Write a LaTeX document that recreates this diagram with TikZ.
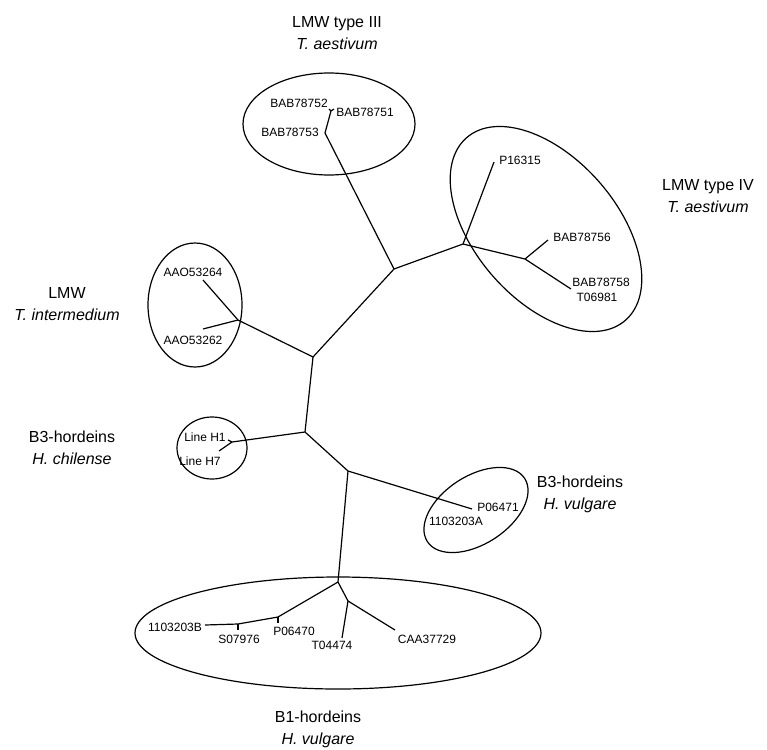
\documentclass[tikz,border=0pt]{standalone}
\usepackage{fontspec}
\setmainfont{Liberation Sans}
\newcommand{\taxon}[4]{\node[leaf] (#1) at (#2,#3) {#4};}
\newcommand{\cladelabel}[5]{\node[group] (#1) at (#2,#3) {#4\\\textit{#5}};}
\begin{document}
\begin{tikzpicture}
                [x=1pt,y=-1pt,
                branch/.style={line width=1.2pt},
                clade/.style={line width=1.2pt},
                leaf/.style={font=\fontsize{12}{14}\selectfont, inner sep=0pt},
                group/.style={font=\fontsize{16}{22}\selectfont, align=center, inner sep=0pt},
                ]
                \useasboundingbox (0,0) rectangle (767,749);
                % inner nodes of the tree
                \coordinate (nA) at (394,269);  \coordinate (nB) at (463,244);
                \coordinate (nC) at (525,259);  \coordinate (nD) at (238,320);
                \coordinate (nE) at (313,357);  \coordinate (nF) at (305,432);
                \coordinate (nG) at (232,442);  \coordinate (nI) at (348,471);
                \coordinate (nJ) at (338,582);  \coordinate (nK) at (348,601);
                \coordinate (nL) at (278,617);  \coordinate (nM) at (238,624);
                \coordinate (n53) at (325,133); \coordinate (n5x) at (331,111);
                % tips
                \coordinate (t52) at (329,109); \coordinate (t51) at (334,109);
                \coordinate (t15) at (494,162); \coordinate (t56) at (548,240);
                \coordinate (t58) at (571,289); \coordinate (t64) at (203,280);
                \coordinate (t62) at (203,329); \coordinate (tH1) at (228,440);
                \coordinate (tH7) at (219,451); \coordinate (t71) at (472,509);
                \coordinate (t74) at (342,638); \coordinate (t29) at (395,630);
                \coordinate (tL) at (278,623);  \coordinate (tM) at (238,630);
                \coordinate (t3B) at (205,625);
                % branches
                \draw[branch] (nA) -- (n53) -- (n5x) -- (t51);  \draw[branch] (n5x) -- (t52);
                \draw[branch] (nA) -- (nB) -- (t15);  \draw[branch] (nB) -- (nC) -- (t56);  \draw[branch] (nC) -- (t58);
                \draw[branch] (nA) -- (nE) -- (nD) -- (t64);  \draw[branch] (nD) -- (t62);
                \draw[branch] (nE) -- (nF) -- (nG) -- (tH1);  \draw[branch] (nG) -- (tH7);
                \draw[branch] (nF) -- (nI) -- (t71);
                \draw[branch] (nI) -- (nJ) -- (nK) -- (t74);  \draw[branch] (nK) -- (t29);
                \draw[branch] (nJ) -- (nL) -- (nM) -- (t3B);  \draw[branch] (nL) -- (tL);  \draw[branch] (nM) -- (tM);
                % groups
                \draw[clade] (329,124) ellipse [x radius=86, y radius=51];
                \draw[clade, rotate around={-49:(546,229)}] (546,229) ellipse [x radius=121, y radius=71];
                \draw[clade] (195,305) ellipse [x radius=47, y radius=62];
                \draw[clade] (212,448) ellipse [x radius=35, y radius=31];
                \draw[clade, rotate around={33:(476,510)}] (476,510) ellipse [x radius=58, y radius=34];
                \draw[clade] (338,633) ellipse [x radius=203, y radius=56];
                % labels
                \taxon{bab78752}{299}{103}{BAB78752}  \taxon{bab78751}{365}{112}{BAB78751}
                \taxon{bab78753}{290}{132}{BAB78753}
                \taxon{p16315}{520}{160}{P16315}  \taxon{bab78756}{582}{237}{BAB78756}
                \taxon{bab78758}{601}{282}{BAB78758}  \taxon{t06981}{597}{297}{T06981}
                \taxon{aao53264}{193}{272}{AAO53264}  \taxon{aao53262}{193}{340}{AAO53262}
                \taxon{lineh1}{205}{437}{Line H1}  \taxon{lineh7}{200}{461}{Line H7}
                \taxon{p06471}{498}{507}{P06471}  \taxon{a1103203}{456}{521}{1103203A}
                \taxon{b1103203}{175}{627}{1103203B}  \taxon{s07976}{239}{639}{S07976}
                \taxon{p06470}{294}{631}{P06470}  \taxon{t04474}{332}{645}{T04474}
                \taxon{caa37729}{427}{639}{CAA37729}
                \cladelabel{lmwiii}{337}{33}{LMW type III}{T. aestivum}
                \cladelabel{lmwiv}{708}{196}{LMW type IV}{T. aestivum}
                \cladelabel{lmw}{67}{304}{LMW}{T. intermedium}
                \cladelabel{bthreech}{72}{448}{B3-hordeins}{H. chilense}
                \cladelabel{bthreehv}{580}{494}{B3-hordeins}{H. vulgare}
                \cladelabel{bonehv}{318}{729}{B1-hordeins}{H. vulgare}
            \end{tikzpicture}
\end{document}
